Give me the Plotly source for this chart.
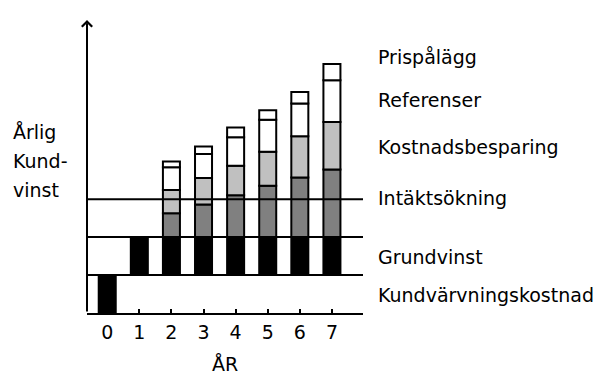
import plotly.graph_objects as go

# ---- data ----
years = [0, 1, 2, 3, 4, 5, 6, 7]
year_labels = ["0", "1", "2", "3", "4", "5", "6", "7"]
kundvarvningskostnad = [-1, None, None, None, None, None, None, None]
grundvinst = [None, 1, 1, 1, 1, 1, 1, 1]
intaktsokning = [None, None, 0.63, 0.86, 1.10, 1.35, 1.57, 1.78]
kostnadsbesparing = [None, None, 0.61, 0.70, 0.78, 0.90, 1.09, 1.25]
referenser = [None, None, 0.60, 0.63, 0.75, 0.84, 0.86, 1.10]
prispalagg = [None, None, 0.15, 0.20, 0.26, 0.25, 0.30, 0.43]
level_lines = [0, 1, 2]

segment_names = ["Prispålägg", "Referenser", "Kostnadsbesparing",
                 "Intäktsökning", "Grundvinst", "Kundvärvningskostnad"]
segment_label_px_y = [57, 100, 147, 198, 257, 295]
left_title = ["Årlig", "Kund-", "vinst"]
left_title_px_y = [132, 161, 190]

# ---- layout geometry ----
W, H = 601, 374
ML, MR, MT, MB = 87, 238, 20, 61
PW, PH = W - ML - MR, H - MT - MB
XMIN, XMAX = -0.63, 7.968
YMIN, YMAX = -1.0, 6.72
FONT = "DejaVu Sans"
FS = 19

def px_x(px):
    return (px - ML) / PW

def px_y(py):
    return (H - MB - py) / PH

fig = go.Figure()

line = dict(color="black", width=2)
bw = 0.53
stack = [
    ("Grundvinst", grundvinst, "black"),
    ("Intäktsökning", intaktsokning, "#808080"),
    ("Kostnadsbesparing", kostnadsbesparing, "#c0c0c0"),
    ("Referenser", referenser, "white"),
    ("Prispålägg", prispalagg, "white"),
    ("Kundvärvningskostnad", kundvarvningskostnad, "black"),
]
for name, vals, col in stack:
    fig.add_trace(go.Bar(x=years, y=vals, name=name, width=bw,
                         marker=dict(color=col, line=line),
                         showlegend=False, hoverinfo="skip"))

for lv in level_lines:
    fig.add_shape(type="line", xref="x", yref="y", x0=XMIN, x1=XMAX,
                  y0=lv, y1=lv, line=dict(color="black", width=2), layer="above")

# y axis with arrow
fig.add_annotation(x=XMIN, y=YMAX, ax=XMIN, ay=YMIN, xref="x", yref="y",
                   axref="x", ayref="y", showarrow=True, arrowhead=4,
                   arrowsize=1, arrowwidth=2, arrowcolor="black", text="")

for name, py in zip(segment_names, segment_label_px_y):
    fig.add_annotation(x=px_x(376), y=px_y(py), xref="paper", yref="paper",
                       text=name, showarrow=False, xanchor="left", yanchor="middle",
                       font=dict(family=FONT, size=FS, color="black"))

for t, py in zip(left_title, left_title_px_y):
    fig.add_annotation(x=px_x(11), y=px_y(py), xref="paper", yref="paper",
                       text=t, showarrow=False, xanchor="left", yanchor="middle",
                       font=dict(family=FONT, size=FS, color="black"))

fig.add_annotation(x=px_x(225), y=px_y(364), xref="paper", yref="paper",
                   text="ÅR", showarrow=False, xanchor="center", yanchor="middle",
                   font=dict(family=FONT, size=FS, color="black"))

fig.update_layout(
    width=W, height=H, margin=dict(l=ML, r=MR, t=MT, b=MB, autoexpand=False),
    paper_bgcolor="white", plot_bgcolor="white", barmode="relative",
    font=dict(family=FONT, size=FS, color="black"),
    xaxis=dict(range=[XMIN, XMAX], tickvals=years, ticktext=year_labels,
               ticks="inside", ticklen=4, tickwidth=1.5, tickcolor="black",
               showline=True, linecolor="black", linewidth=2, showgrid=False,
               zeroline=False, layer="below traces", ticklabelstandoff=1,
               tickfont=dict(family=FONT, size=FS, color="black")),
    yaxis=dict(range=[YMIN, YMAX], showticklabels=False, ticks="",
               showgrid=False, zeroline=False, showline=False),
)

fig.write_html("out.html", config={"displayModeBar": False},
               post_script="document.body.style.margin='0';")
